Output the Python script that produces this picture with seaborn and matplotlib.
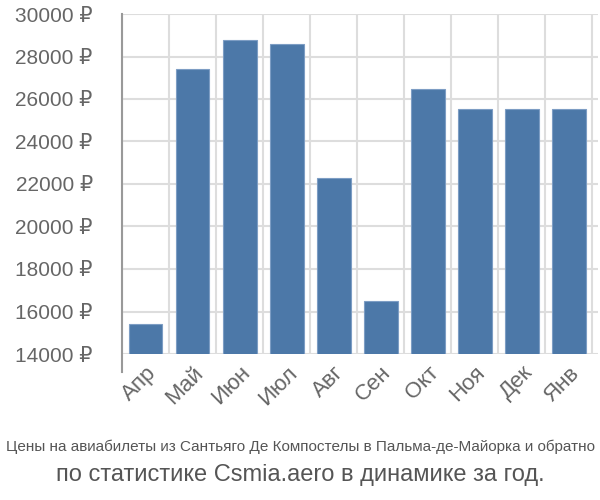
import matplotlib
matplotlib.use("Agg")
import matplotlib.pyplot as plt
import seaborn as sns
import numpy as np
import pandas as pd
from matplotlib.ticker import FixedLocator, FuncFormatter

months = ["Апр", "Май", "Июн", "Июл", "Авг", "Сен", "Окт", "Ноя", "Дек", "Янв"]
prices = [15400, 27400, 28800, 28600, 22300, 16480, 26470, 25550, 25550, 25550]
yticks = [14000, 16000, 18000, 20000, 22000, 24000, 26000, 28000, 30000]
title1 = "Цены на авиабилеты из Сантьяго Де Компостелы в Пальма-де-Майорка и обратно"
title2 = "по статистике Csmia.aero в динамике за год."

sns.set_style("white")
plt.rcParams['font.family'] = ['Liberation Sans', 'DejaVu Sans']

df = pd.DataFrame({"month": months, "price": prices})

fig = plt.figure(figsize=(6, 5), dpi=100)
ax = fig.add_axes([122/600, 1 - 354/500, (598-122)/600, (354-14)/500])

sns.barplot(data=df, x="month", y="price", color="#4c78a8", saturation=1,
            width=0.72, edgecolor="#7d9dc4", linewidth=0.8, ax=ax, zorder=3)

ax.set_ylim(14000, 30000)
ax.set_xlim(-0.5, 9.62)
ax.set_xlabel("")
ax.set_ylabel("")

grid_c = "#dddddd"
tick_c = "#666666"
ax.yaxis.set_major_locator(FixedLocator(yticks))
ax.yaxis.set_major_formatter(FuncFormatter(lambda v, p: f"{int(v)} ₽"))
ax.tick_params(axis="y", length=19, width=1.5, color=grid_c, labelsize=15,
               labelcolor=tick_c, pad=2)
ax.grid(axis="y", color=grid_c, linewidth=1.5, zorder=0)

ax.xaxis.set_major_locator(FixedLocator(np.arange(-0.5, 10, 1)))
ax.xaxis.set_major_formatter(FuncFormatter(lambda v, p: ""))
ax.xaxis.set_minor_locator(FixedLocator(np.arange(0, 10, 1)))
ax.set_xticklabels(months, minor=True)
ax.tick_params(axis="x", which="major", length=18, width=1.5, color=grid_c)
ax.tick_params(axis="x", which="minor", length=0, labelsize=16,
               labelcolor=tick_c, pad=6)
for lbl in ax.get_xticklabels(minor=True):
    lbl.set_rotation(45)
    lbl.set_ha("right")
    lbl.set_va("top")
    lbl.set_rotation_mode("anchor")
ax.grid(axis="x", which="major", color=grid_c, linewidth=1.5, zorder=0)
ax.set_axisbelow(True)

for s in ["top", "right", "bottom"]:
    ax.spines[s].set_visible(False)
ax.spines["left"].set_color("#999999")
ax.spines["left"].set_linewidth(1.5)
ax.spines["left"].set_bounds(13150, 30000)

fig.text(0.5, 1 - 447/500, title1, ha="center", va="center", fontsize=11.0,
         color="#555555")
fig.text(0.5, 1 - 475/500, title2, ha="center", va="center", fontsize=17,
         color="#555555")

fig.savefig("out.png", dpi=100)
